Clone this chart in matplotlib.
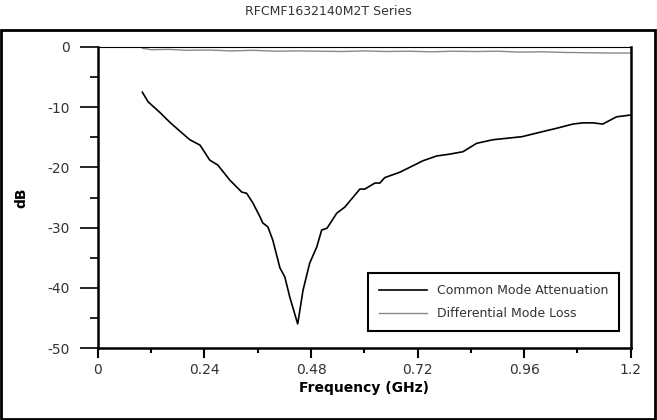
import matplotlib as mpl
mpl.use('Agg')
import matplotlib.pyplot as plt
from matplotlib.patches import Rectangle
from matplotlib.ticker import MultipleLocator

plt.rcParams['axes.unicode_minus'] = False

# common mode attenuation
cm_freq = [0.100, 0.113, 0.140, 0.162, 0.185, 0.207, 0.230, 0.252, 0.270, 0.297,
           0.324, 0.335, 0.349, 0.365, 0.371, 0.383, 0.394, 0.410, 0.421, 0.432,
           0.450, 0.462, 0.477, 0.493, 0.504, 0.516, 0.538, 0.556, 0.590, 0.601,
           0.624, 0.635, 0.646, 0.680, 0.702, 0.732, 0.763, 0.792, 0.822, 0.853,
           0.890, 0.955, 0.988, 1.033, 1.070, 1.092, 1.115, 1.137, 1.168, 1.200]
cm_db = [-7.5, -9.1, -10.9, -12.5, -14.0, -15.4, -16.3, -18.8, -19.6, -22.1,
         -24.1, -24.3, -25.9, -28.2, -29.2, -29.9, -32.1, -36.7, -38.2, -41.5,
         -46.0, -40.4, -35.9, -33.2, -30.4, -30.1, -27.6, -26.6, -23.6, -23.6,
         -22.6, -22.6, -21.7, -20.8, -20.0, -18.9, -18.1, -17.8, -17.4, -16.0,
         -15.4, -14.9, -14.3, -13.5, -12.8, -12.6, -12.6, -12.8, -11.6, -11.3]

# differential mode loss
dm_freq = [0.100, 0.120, 0.160, 0.200, 0.250, 0.300, 0.350, 0.400, 0.450, 0.500,
           0.550, 0.600, 0.650, 0.700, 0.750, 0.800, 0.850, 0.900, 0.950, 1.000,
           1.050, 1.100, 1.150, 1.200]
dm_db = [-0.2, -0.45, -0.4, -0.55, -0.5, -0.65, -0.55, -0.7, -0.65, -0.7,
         -0.75, -0.65, -0.75, -0.7, -0.8, -0.7, -0.75, -0.7, -0.85, -0.8,
         -0.9, -0.95, -1.0, -1.0]

xticks = [0, 0.24, 0.48, 0.72, 0.96, 1.2]
xticklabels = ['0', '0.24', '0.48', '0.72', '0.96', '1.2']
yticks = [0, -10, -20, -30, -40, -50]

fig = plt.figure(figsize=(6.57, 4.2), dpi=100)
ax = fig.add_axes([0.149, 0.1714, 0.811, 0.7167])

ax.plot(cm_freq, cm_db, '-', color='black', lw=1.2, label='Common Mode Attenuation')
ax.plot(dm_freq, dm_db, '-', color='#888888', lw=1.0, label='Differential Mode Loss')

ax.set_xlim(0, 1.2)
ax.set_ylim(-50, 0)
ax.set_xticks(xticks)
ax.set_xticklabels(xticklabels)
ax.set_yticks(yticks)
ax.xaxis.set_minor_locator(MultipleLocator(0.12))
ax.yaxis.set_minor_locator(MultipleLocator(5))

for side in ['left', 'bottom', 'right']:
    ax.spines[side].set_linewidth(1.8)
ax.spines['top'].set_linewidth(0.8)

ax.tick_params(axis='y', which='major', direction='out', length=13, width=1.2,
               pad=7, labelsize=10, labelcolor='#333333')
ax.tick_params(axis='y', which='minor', direction='out', length=6, width=1.2)
ax.tick_params(axis='x', which='major', direction='out', length=7, width=1.5,
               pad=4, labelsize=10, labelcolor='#333333')
ax.tick_params(axis='x', which='minor', direction='out', length=3.5, width=1.5)

ax.set_xlabel('Frequency (GHz)', fontsize=10, fontweight='bold', labelpad=3)
ax.set_ylabel('dB', fontsize=10, fontweight='bold')
ax.yaxis.set_label_coords(-0.13, 0.5)

leg = ax.legend(loc='lower right', bbox_to_anchor=(0.99, 0.035), fancybox=False,
                edgecolor='black', fontsize=9, handlelength=3.8, borderpad=0.9,
                labelspacing=0.8, framealpha=1)
leg.get_frame().set_linewidth(1.5)
for t in leg.get_texts():
    t.set_color('#333333')

fig.text(0.5, 0.972, 'RFCMF1632140M2T Series', ha='center', va='center',
         fontsize=9, color='#333333')

fig.patches.append(Rectangle((0.002, 0.003), 0.995, 0.925, transform=fig.transFigure,
                             fill=False, edgecolor='black', lw=2))

fig.savefig('out.png', dpi=100)
